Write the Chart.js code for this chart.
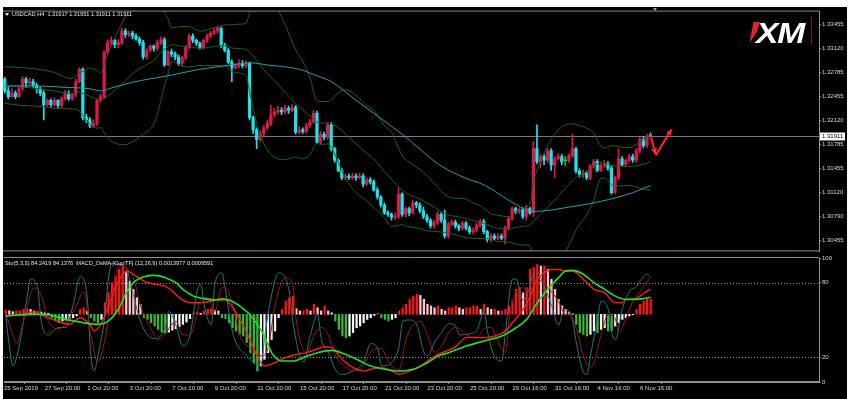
<!DOCTYPE html>
<html>
<head>
<meta charset="utf-8">
<title>USDCAD,H4</title>
<script src="https://cdn.jsdelivr.net/npm/chart.js@4.4.1/dist/chart.umd.min.js"></script>
<style>
  html, body { margin:0; padding:0; background:#fff; }
  body { width:855px; height:399px; position:relative; overflow:hidden; font-family:'Liberation Sans', Arial, sans-serif; }
  #term { position:absolute; left:3px; top:7px; width:844px; height:392px; background:#000; }
  canvas { position:absolute; left:3px; }
  #main { top:7px; }
  #sub { top:250px; }
  .lbl { position:absolute; color:#e6e6e6; font-size:5.6px; white-space:pre; line-height:7px; }
  #title { left:12px; top:11px; }
  #tri { position:absolute; left:5px; top:13px; width:0; height:0; border-left:2px solid transparent; border-right:2px solid transparent; border-top:3px solid #e6e6e6; }
  #subTitle { left:5px; top:260px; }
  #shift { position:absolute; left:653px; top:8px; width:0; height:0; border-left:2.5px solid transparent; border-right:2.5px solid transparent; border-top:3px solid #a0a0a0; }
  #xmRed { position:absolute; left:749px; top:22px; width:11px; height:21px; background:#e3262b; clip-path:polygon(40% 0,100% 0,70% 48%,5% 100%); }
  #xm { position:absolute; left:756px; top:22px; height:22px; line-height:22px; font-size:30px; font-weight:bold; font-style:italic; color:#fff; transform:scaleX(1.12); transform-origin:left top; letter-spacing:-1px; }
  #xmBar { position:absolute; left:811px; top:17px; width:1px; height:28px; background:#7d1a1a; }
</style>
</head>
<body>
<div id="term"></div>
<canvas id="main" width="844" height="249"></canvas>
<canvas id="sub" width="844" height="149"></canvas>
<div id="tri"></div>
<div class="lbl" id="title">USDCAD,H4  1.31917 1.31951 1.31911 1.31911</div>
<div class="lbl" id="subTitle">Sto(5,3,3) 84.2419 84.1376  MACD_OsMA [CurrTF] (12,26,9) 0.0013977 0.0009591</div>
<div id="shift"></div>
<div id="xmRed"></div>
<div id="xm">XM</div>
<div id="xmBar"></div>
<script>
// H4 candles, bar 0 = 25 Sep 2019
var barOpen = [1.3269,1.3253,1.3245,1.3250,1.3245,1.3256,1.3269,1.3264,1.3266,1.3261,
 1.3256,1.3250,1.3234,1.3240,1.3234,1.3240,1.3233,1.3242,1.3250,1.3242,
 1.3248,1.3266,1.3283,1.3216,1.3213,1.3205,1.3208,1.3240,1.3245,1.3307,
 1.3320,1.3323,1.3317,1.3320,1.3336,1.3331,1.3333,1.3329,1.3325,1.3320,
 1.3300,1.3309,1.3315,1.3312,1.3320,1.3324,1.3289,1.3307,1.3304,1.3300,
 1.3291,1.3299,1.3313,1.3329,1.3323,1.3319,1.3313,1.3323,1.3329,1.3333,
 1.3336,1.3340,1.3316,1.3309,1.3293,1.3285,1.3288,1.3291,1.3288,1.3291,
 1.3216,1.3199,1.3186,1.3194,1.3202,1.3208,1.3220,1.3224,1.3226,1.3224,
 1.3229,1.3226,1.3230,1.3196,1.3199,1.3197,1.3205,1.3210,1.3222,1.3182,
 1.3193,1.3189,1.3206,1.3173,1.3157,1.3143,1.3133,1.3135,1.3133,1.3135,
 1.3133,1.3135,1.3124,1.3130,1.3127,1.3116,1.3106,1.3095,1.3084,1.3082,
 1.3078,1.3079,1.3110,1.3082,1.3090,1.3084,1.3098,1.3095,1.3087,1.3079,
 1.3074,1.3066,1.3071,1.3082,1.3074,1.3052,1.3068,1.3071,1.3066,1.3063,
 1.3070,1.3063,1.3058,1.3060,1.3067,1.3072,1.3058,1.3047,1.3052,1.3049,
 1.3052,1.3049,1.3063,1.3076,1.3090,1.3086,1.3088,1.3079,1.3090,1.3084,
 1.3173,1.3155,1.3162,1.3157,1.3170,1.3150,1.3159,1.3162,1.3156,1.3156,
 1.3163,1.3173,1.3142,1.3137,1.3139,1.3133,1.3149,1.3155,1.3143,1.3150,
 1.3152,1.3146,1.3112,1.3133,1.3159,1.3151,1.3157,1.3162,1.3157,1.3170,
 1.3186,1.3177,1.31917];
var barHigh = [1.3272,1.3258,1.3256,1.3253,1.3258,1.3273,1.3272,1.3271,1.3269,1.3264,
 1.3258,1.3253,1.3242,1.3242,1.3244,1.3241,1.3245,1.3254,1.3253,1.3250,
 1.3269,1.3285,1.3285,1.3221,1.3216,1.3213,1.3242,1.3249,1.3309,1.3324,
 1.3328,1.3325,1.3324,1.3340,1.3339,1.3336,1.3336,1.3332,1.3328,1.3323,
 1.3312,1.3317,1.3317,1.3323,1.3328,1.3327,1.3309,1.3311,1.3307,1.3303,
 1.3301,1.3316,1.3332,1.3332,1.3325,1.3321,1.3325,1.3332,1.3336,1.3339,
 1.3343,1.3341,1.3319,1.3312,1.3296,1.3291,1.3296,1.3295,1.3295,1.3293,
 1.3218,1.3202,1.3197,1.3205,1.3212,1.3233,1.3229,1.3232,1.3230,1.3233,
 1.3232,1.3234,1.3233,1.3204,1.3202,1.3208,1.3214,1.3226,1.3225,1.3197,
 1.3196,1.3209,1.3209,1.3175,1.3159,1.3146,1.3138,1.3138,1.3139,1.3138,
 1.3139,1.3138,1.3133,1.3133,1.3130,1.3119,1.3108,1.3098,1.3087,1.3084,
 1.3084,1.3119,1.3112,1.3092,1.3092,1.3102,1.3100,1.3098,1.3092,1.3082,
 1.3076,1.3074,1.3086,1.3084,1.3088,1.3071,1.3074,1.3074,1.3068,1.3072,
 1.3072,1.3066,1.3063,1.3070,1.3075,1.3075,1.3060,1.3055,1.3055,1.3055,
 1.3055,1.3066,1.3079,1.3092,1.3092,1.3091,1.3091,1.3095,1.3092,1.3183,
 1.3206,1.3166,1.3165,1.3173,1.3173,1.3162,1.3166,1.3165,1.3162,1.3166,
 1.3193,1.3175,1.3145,1.3143,1.3142,1.3151,1.3158,1.3158,1.3152,1.3157,
 1.3155,1.3149,1.3135,1.3173,1.3162,1.3159,1.3165,1.3165,1.3173,1.3189,
 1.3190,1.3193,1.31951];
var barLow = [1.3250,1.3242,1.3244,1.3242,1.3244,1.3253,1.3258,1.3261,1.3258,1.3250,
 1.3246,1.3213,1.3232,1.3230,1.3232,1.3229,1.3230,1.3240,1.3240,1.3240,
 1.3245,1.3264,1.3213,1.3209,1.3202,1.3202,1.3205,1.3237,1.3242,1.3304,
 1.3316,1.3313,1.3313,1.3317,1.3327,1.3328,1.3325,1.3323,1.3316,1.3297,
 1.3297,1.3307,1.3308,1.3309,1.3317,1.3287,1.3288,1.3300,1.3296,1.3288,
 1.3288,1.3296,1.3311,1.3320,1.3316,1.3311,1.3311,1.3320,1.3327,1.3331,
 1.3333,1.3313,1.3307,1.3291,1.3266,1.3283,1.3285,1.3285,1.3285,1.3213,
 1.3194,1.3173,1.3183,1.3191,1.3199,1.3205,1.3217,1.3221,1.3220,1.3221,
 1.3222,1.3224,1.3193,1.3193,1.3194,1.3194,1.3202,1.3208,1.3180,1.3180,
 1.3185,1.3186,1.3170,1.3154,1.3141,1.3130,1.3130,1.3130,1.3130,1.3129,
 1.3131,1.3120,1.3122,1.3124,1.3114,1.3103,1.3092,1.3082,1.3079,1.3074,
 1.3075,1.3076,1.3079,1.3078,1.3080,1.3082,1.3091,1.3084,1.3076,1.3071,
 1.3063,1.3063,1.3068,1.3071,1.3049,1.3049,1.3066,1.3063,1.3059,1.3060,
 1.3060,1.3055,1.3055,1.3058,1.3064,1.3055,1.3044,1.3044,1.3047,1.3047,
 1.3047,1.3041,1.3060,1.3074,1.3083,1.3083,1.3076,1.3074,1.3082,1.3079,
 1.3152,1.3146,1.3151,1.3154,1.3143,1.3133,1.3157,1.3151,1.3149,1.3154,
 1.3161,1.3139,1.3134,1.3133,1.3130,1.3130,1.3146,1.3141,1.3141,1.3147,
 1.3143,1.3110,1.3111,1.3130,1.3149,1.3149,1.3154,1.3154,1.3154,1.3167,
 1.3174,1.3174,1.31911];
var barClose = [1.3253,1.3245,1.3250,1.3245,1.3256,1.3269,1.3264,1.3266,1.3261,1.3256,
 1.3250,1.3234,1.3240,1.3234,1.3240,1.3233,1.3242,1.3250,1.3242,1.3248,
 1.3266,1.3283,1.3216,1.3213,1.3205,1.3208,1.3240,1.3245,1.3307,1.3320,
 1.3323,1.3317,1.3320,1.3336,1.3331,1.3333,1.3329,1.3325,1.3320,1.3300,
 1.3309,1.3315,1.3312,1.3320,1.3324,1.3289,1.3307,1.3304,1.3300,1.3291,
 1.3299,1.3313,1.3329,1.3323,1.3319,1.3313,1.3323,1.3329,1.3333,1.3336,
 1.3340,1.3316,1.3309,1.3293,1.3285,1.3288,1.3291,1.3288,1.3291,1.3216,
 1.3199,1.3186,1.3194,1.3202,1.3208,1.3220,1.3224,1.3226,1.3224,1.3229,
 1.3226,1.3230,1.3196,1.3199,1.3197,1.3205,1.3210,1.3222,1.3182,1.3193,
 1.3189,1.3206,1.3173,1.3157,1.3143,1.3133,1.3135,1.3133,1.3135,1.3133,
 1.3135,1.3124,1.3130,1.3127,1.3116,1.3106,1.3095,1.3084,1.3082,1.3078,
 1.3079,1.3110,1.3082,1.3090,1.3084,1.3098,1.3095,1.3087,1.3079,1.3074,
 1.3066,1.3071,1.3082,1.3074,1.3052,1.3068,1.3071,1.3066,1.3063,1.3070,
 1.3063,1.3058,1.3060,1.3067,1.3072,1.3058,1.3047,1.3052,1.3049,1.3052,
 1.3049,1.3063,1.3076,1.3090,1.3086,1.3088,1.3079,1.3090,1.3084,1.3173,
 1.3155,1.3162,1.3157,1.3170,1.3150,1.3159,1.3162,1.3155,1.3156,1.3163,
 1.3173,1.3142,1.3137,1.3139,1.3133,1.3149,1.3155,1.3143,1.3150,1.3152,
 1.3146,1.3112,1.3133,1.3159,1.3151,1.3157,1.3162,1.3157,1.3170,1.3186,
 1.3177,1.3190,1.31911];

// moving average (teal), [bar, price]
var maPts = [[0,1.3260],[8,1.3260],[17,1.3258],[24,1.3256],[27,1.3253],[30,1.3257],[36,1.3265],[46,1.3274],
 [55,1.3283],[64,1.3289],[69,1.3292],[74,1.3289],[83,1.3283],[88,1.3274],[92,1.3266],[99,1.3240],[112,1.3193],
 [123,1.3149],[130,1.3132],[135,1.3123],[144,1.3096],[149,1.3086],[159,1.3092],[168,1.3100],[177,1.3112],[182,1.3122]];

// Bollinger bands (dark green), read at these bars
var bbBars = [0,5,10,14,19,21,22,24,26,27,28,29,31,34,36,39,42,44,45,46,47,48,49,52,55,59,62,64,66,68,
 69,70,71,72,74,76,79,82,84,86,88,89,91,92,94,96,99,102,104,107,109,112,114,117,119,122,124,127,129,132,
 134,137,139,142,144,146,148,149,150,151,152,154,156,159,161,162,164,166,168,169,171,172,174,176,179,181,182];
var bbUpper = [1.32865,1.32852,1.32825,1.32785,1.32698,1.32777,1.32803,1.32848,1.32810,1.32783,1.32897,1.33037,
 1.33262,1.33556,1.33703,1.33803,1.33835,1.33740,1.33614,1.33530,1.33404,1.33408,1.33418,1.33422,1.33357,
 1.33406,1.33443,1.33448,1.33455,1.33464,1.33611,1.33736,1.33827,1.33849,1.33826,1.33737,1.33448,1.33098,
 1.32943,1.32722,1.32388,1.32384,1.32383,1.32407,1.32505,1.32547,1.32470,1.32325,1.32262,1.32049,1.31958,
 1.31636,1.31540,1.31442,1.31359,1.31198,1.31094,1.31043,1.31043,1.30977,1.30943,1.30831,1.30808,1.30788,
 1.30864,1.30907,1.30962,1.31268,1.31419,1.31561,1.31668,1.31859,1.31989,1.32072,1.32066,1.32048,1.32014,
 1.31944,1.31765,1.31739,1.31770,1.31768,1.31750,1.31746,1.31819,1.31892,1.31943];
var bbMiddle = [1.32597,1.32584,1.32557,1.32530,1.32489,1.32515,1.32497,1.32456,1.32413,1.32402,1.32425,1.32457,
 1.32535,1.32671,1.32765,1.32868,1.32953,1.33067,1.33108,1.33141,1.33171,1.33167,1.33152,1.33143,1.33120,
 1.33144,1.33158,1.33126,1.33117,1.33104,1.33067,1.33017,1.32953,1.32886,1.32770,1.32673,1.32513,1.32357,
 1.32265,1.32184,1.32097,1.32085,1.32090,1.32079,1.32024,1.31936,1.31797,1.31666,1.31589,1.31413,1.31305,
 1.31157,1.31094,1.31033,1.30976,1.30890,1.30831,1.30791,1.30777,1.30732,1.30715,1.30653,1.30628,1.30613,
 1.30638,1.30652,1.30675,1.30726,1.30773,1.30825,1.30873,1.30964,1.31072,1.31233,1.31334,1.31364,1.31412,
 1.31481,1.31540,1.31530,1.31501,1.31489,1.31484,1.31483,1.31502,1.31528,1.31555];
var bbLower = [1.32356,1.32329,1.32316,1.32289,1.32281,1.32253,1.32191,1.32064,1.32015,1.32021,1.31953,1.31877,
 1.31808,1.31786,1.31828,1.31930,1.32072,1.32393,1.32601,1.32752,1.32937,1.32927,1.32887,1.32864,1.32884,
 1.32881,1.32874,1.32803,1.32779,1.32744,1.32522,1.32300,1.32080,1.31923,1.31714,1.31609,1.31579,1.31615,
 1.31588,1.31646,1.31805,1.31786,1.31797,1.31752,1.31544,1.31325,1.31124,1.31006,1.30917,1.30777,1.30653,
 1.30677,1.30646,1.30625,1.30592,1.30582,1.30568,1.30539,1.30512,1.30488,1.30487,1.30476,1.30446,1.30438,
 1.30412,1.30397,1.30387,1.30185,1.30126,1.30089,1.30078,1.30068,1.30156,1.30394,1.30602,1.30681,1.30811,
 1.31017,1.31316,1.31321,1.31232,1.31210,1.31218,1.31220,1.31185,1.31163,1.31166];

var lastPrice = 1.31911;
var priceTicks = [1.30455,1.30790,1.31120,1.31455,1.31785,1.32120,1.32455,1.32785,1.33120,1.33455];
var dateTickBars = [-0.5,11,23,35,47,59,71,83,95,107,119,131,143,155,167,179];
var dateTickLabels = ['25 Sep 2019','27 Sep 20:00','1 Oct 20:00','3 Oct 20:00','7 Oct 20:00','9 Oct 20:00',
 '11 Oct 20:00','15 Oct 20:00','17 Oct 20:00','21 Oct 20:00','23 Oct 20:00','25 Oct 20:00',
 '29 Oct 16:00','31 Oct 16:00','4 Nov 16:00','6 Nov 16:00'];

// hand drawn arrow (bar, price)
var arrowBars = [182, 183.5, 188.1];
var arrowPrices = [1.3192, 1.3164, 1.3201];

// Stochastic(5,3,3)
var stochMain = [[0,54],[1,29],[2,13],[4,32],[6,68],[7,83],[9,76],[10,49],[12,38],[13,40],[15,44],[17,44],[19,62],
 [21,85],[23,68],[24,21],[25,9],[26,21],[28,54],[29,84],[30,96],[32,95],[34,92],[36,70],[38,49],[40,38],[42,35],
 [45,44],[46,57],[48,46],[50,29],[52,38],[54,73],[55,79],[56,62],[58,46],[59,79],[61,88],[62,74],[64,40],[68,21],
 [72,13],[73,35],[75,70],[77,88],[80,73],[81,49],[84,16],[86,38],[88,55],[89,35],[91,24],[93,10],[95,6],[98,9],
 [101,16],[103,31],[105,27],[106,13],[109,16],[111,29],[112,49],[114,50],[116,46],[118,24],[119,21],[121,32],
 [123,40],[125,47],[127,45],[128,38],[131,39],[133,42],[135,57],[136,40],[138,20],[140,17],[141,40],[143,83],
 [144,83],[146,66],[147,69],[149,87],[150,88],[152,77],[154,62],[156,46],[157,54],[158,58],[160,49],[161,32],
 [163,8],[164,6],[165,21],[167,51],[168,65],[170,59],[171,40],[172,34],[174,59],[176,73],[178,77],[179,81],
 [181,87],[182,84.24]];
var stochSignal = [[0,55],[2,38],[3,31],[5,49],[8,76],[10,70],[12,49],[15,43],[17,47],[20,62],[22,73],[24,38],
 [26,16],[28,35],[30,70],[32,94],[34,92],[36,84],[38,62],[41,43],[43,34],[45,39],[48,49],[50,38],[52,38],[55,65],
 [57,68],[59,57],[61,76],[62,76],[64,62],[66,38],[69,27],[72,21],[74,27],[76,62],[79,84],[81,79],[82,49],[85,24],
 [87,38],[89,44],[91,38],[93,21],[96,12],[98,9],[101,13],[103,24],[106,27],[108,16],[111,10],[113,35],[115,46],
 [117,49],[119,38],[121,24],[123,29],[125,40],[127,44],[130,38],[133,36],[135,43],[137,44],[139,32],[141,24],
 [142,49],[144,73],[146,76],[148,73],[150,83],[152,79],[154,73],[156,65],[158,54],[159,55],[161,43],[163,21],
 [165,12],[166,16],[168,38],[170,54],[172,51],[173,40],[175,51],[177,65],[179,73],[181,81],[182,84.14]];
var stochLevels = [20, 80];
var stochTicks = [0, 20, 80, 100];

// MACD_OsMA, in points (0.00001)
var macdMain = [[0,-9],[4,0],[8,13],[12,-19],[16,-47],[18,-56],[21,-19],[24,-65],[25,-93],[27,-47],[29,47],[31,158],
 [33,224],[34,242],[36,224],[39,186],[42,168],[45,158],[47,130],[49,93],[52,65],[55,65],[58,75],[61,90],[63,65],
 [65,9],[68,-102],[71,-233],[73,-289],[76,-270],[79,-242],[82,-224],[85,-214],[88,-192],[90,-181],[92,-186],
 [95,-252],[98,-298],[101,-317],[103,-307],[106,-298],[109,-317],[111,-335],[114,-317],[117,-289],[119,-261],
 [122,-224],[125,-200],[127,-180],[130,-130],[135,-130],[138,-121],[141,-93],[143,-47],[146,28],[148,102],
 [150,196],[152,233],[154,251],[156,251],[158,242],[160,242],[162,214],[164,177],[166,140],[169,121],[172,65],
 [174,65],[175,84],[177,84],[179,102],[181,130],[182,140]];
var macdSignal = [[0,-9],[8,0],[13,-6],[17,-28],[22,-47],[26,-56],[29,-37],[32,37],[34,121],[36,177],[39,210],
 [42,218],[45,205],[48,177],[50,140],[53,102],[56,88],[59,80],[62,84],[66,47],[70,-28],[73,-121],[75,-214],
 [78,-261],[81,-261],[85,-233],[88,-214],[92,-201],[96,-224],[100,-261],[103,-289],[107,-307],[111,-317],
 [115,-307],[119,-270],[122,-233],[125,-214],[130,-177],[135,-149],[140,-121],[144,-75],[147,-28],[150,65],
 [153,140],[156,205],[158,242],[160,246],[163,224],[166,177],[169,140],[172,102],[175,84],[177,84],[180,88],[182,96]];
var osma = [25,20,15,19,19,28,32,28,19,19,
 13,9,6,-19,-37,-47,-37,-32,-24,-19,
 -9,28,37,19,-19,-37,-47,-28,65,121,
 177,214,251,279,233,186,140,93,56,-19,
 -28,-47,-65,-84,-99,-106,-99,-88,-80,-69,
 -56,-43,-24,9,13,6,19,28,32,24,
 19,-19,-24,-47,-75,-93,-112,-121,-158,-214,
 -270,-317,-289,-251,-214,-140,-93,-19,28,75,
 93,102,32,19,19,28,19,56,37,19,
 47,19,9,-37,-84,-121,-130,-121,-102,-75,
 -65,-47,-28,-19,-6,6,-19,-28,-37,-28,
 -19,19,37,56,84,102,112,106,84,56,
 47,37,47,28,19,37,37,47,37,28,
 37,37,47,47,28,56,37,28,28,19,
 19,28,47,75,140,149,121,149,251,261,
 279,270,270,251,196,140,84,47,28,13,
 3,-56,-102,-112,-121,-112,-93,-102,-84,-75,
 -93,-93,-65,-47,-28,-19,-9,-2,28,56,
 75,84,84];

Chart.defaults.font.family = "'Liberation Sans', Arial, sans-serif";
Chart.defaults.font.size = 6;
Chart.defaults.color = '#d8d8d8';

var upColor = '#e0174b', downColor = '#1fe3ea', dojiColor = '#2fbf2f';
var candleColors = barClose.map(function(c, i) {
    if (c > barOpen[i]) return upColor;
    if (c < barOpen[i]) return downColor;
    return dojiColor;
});
var osmaColors = osma.map(function(v, i) {
    var p = i ? osma[i - 1] : 0;
    if (v >= 0) return v >= p ? '#ff1414' : '#ffc4cc';
    return v <= p ? '#37b837' : '#f4f4f4';
});

function toPts(arr) {
    return arr.map(function(p) { return {x: p[0], y: p[1]}; });
}
function bandLine(values) {
    return {type: 'line', data: bbBars.map(function(b, i) { return {x: b, y: values[i]}; }),
            borderColor: '#1b631b', borderWidth: 1, pointRadius: 0, cubicInterpolationMode: 'monotone', order: 2};
}

var framePlugin = {
    id: 'frame',
    afterDraw: function(chart) {
        var ctx = chart.ctx, a = chart.chartArea;
        ctx.save();
        ctx.strokeStyle = '#8c8c8c';
        ctx.lineWidth = 1;
        ctx.beginPath();
        ctx.moveTo(a.left, a.top - 0.5); ctx.lineTo(a.right, a.top - 0.5);
        ctx.moveTo(a.left, a.bottom - 0.5); ctx.lineTo(a.right, a.bottom - 0.5);
        ctx.stroke();
        ctx.restore();
    }
};

var pricePlugin = {
    id: 'lastPrice',
    beforeDatasetsDraw: function(chart) {
        var ctx = chart.ctx, a = chart.chartArea;
        var py = Math.round(chart.scales.y.getPixelForValue(lastPrice)) + 0.5;
        ctx.save();
        ctx.strokeStyle = '#7a7a7a';
        ctx.lineWidth = 1;
        ctx.beginPath(); ctx.moveTo(a.left, py); ctx.lineTo(a.right, py); ctx.stroke();
        ctx.restore();
    },
    afterDraw: function(chart) {
        var ctx = chart.ctx, a = chart.chartArea;
        var py = Math.round(chart.scales.y.getPixelForValue(lastPrice));
        ctx.save();
        ctx.fillStyle = '#fff';
        ctx.fillRect(a.right + 1, py - 3.5, 25, 8);
        ctx.fillStyle = '#000';
        ctx.font = "6px 'Liberation Sans', Arial";
        ctx.textBaseline = 'middle';
        ctx.fillText(lastPrice.toFixed(5), a.right + 3, py + 0.5);
        ctx.restore();
    }
};

var arrowPlugin = {
    id: 'arrows',
    afterDatasetsDraw: function(chart) {
        var ctx = chart.ctx, xs = chart.scales.x, ys = chart.scales.y;
        var pts = arrowBars.map(function(b, i) { return [xs.getPixelForValue(b), ys.getPixelForValue(arrowPrices[i])]; });
        ctx.save();
        ctx.strokeStyle = ctx.fillStyle = '#ff2a2a';
        ctx.lineWidth = 2;
        for (var k = 1; k < pts.length; k++) {
            var p0 = pts[k - 1], p1 = pts[k];
            var ang = Math.atan2(p1[1] - p0[1], p1[0] - p0[0]);
            var bx = p1[0] - 7 * Math.cos(ang), by = p1[1] - 7 * Math.sin(ang);
            ctx.beginPath(); ctx.moveTo(p0[0], p0[1]); ctx.lineTo(bx, by); ctx.stroke();
            ctx.beginPath();
            ctx.moveTo(p1[0], p1[1]);
            ctx.lineTo(bx + 3 * Math.sin(ang), by - 3 * Math.cos(ang));
            ctx.lineTo(bx - 3 * Math.sin(ang), by + 3 * Math.cos(ang));
            ctx.closePath(); ctx.fill();
        }
        ctx.restore();
    }
};

var levelPlugin = {
    id: 'levels',
    beforeDatasetsDraw: function(chart) {
        var ctx = chart.ctx, a = chart.chartArea, ys = chart.scales.y;
        ctx.save();
        ctx.strokeStyle = '#9a9a9a';
        ctx.lineWidth = 1;
        ctx.setLineDash([1, 2]);
        stochLevels.forEach(function(v) {
            var py = Math.round(ys.getPixelForValue(v)) + 0.5;
            ctx.beginPath(); ctx.moveTo(a.left, py); ctx.lineTo(a.right, py); ctx.stroke();
        });
        ctx.restore();
    }
};

var axisGrid = {drawOnChartArea: false, tickLength: 2, color: '#909090'};

new Chart(document.getElementById('main'), {
    type: 'bar',
    data: {
        datasets: [
            {type: 'line', data: toPts(maPts), borderColor: '#24a2aa', borderWidth: 1, pointRadius: 0,
             cubicInterpolationMode: 'monotone', order: 1},
            bandLine(bbUpper), bandLine(bbMiddle), bandLine(bbLower),
            {data: barOpen.map(function(o, i) { return {x: i, y: [o, barClose[i]]}; }),
             backgroundColor: candleColors, barThickness: 2.6, minBarLength: 1, grouped: false, order: 3},
            {data: barLow.map(function(l, i) { return {x: i, y: [l, barHigh[i]]}; }),
             backgroundColor: candleColors, barThickness: 1, grouped: false, order: 4}
        ]
    },
    options: {
        responsive: false, animation: false, events: [],
        layout: {padding: {top: 1}},
        plugins: {legend: {display: false}, tooltip: {enabled: false}},
        scales: {
            x: {type: 'linear', min: -0.5, max: 229.5, offset: false, display: false},
            y: {position: 'right', min: 1.30307, max: 1.33629,
                afterBuildTicks: function(s) { s.ticks = priceTicks.map(function(v) { return {value: v}; }); },
                afterFit: function(s) { s.width = 28; },
                ticks: {padding: 1, callback: function(v) { return v.toFixed(5); }},
                grid: axisGrid, border: {color: '#909090'}}
        }
    },
    plugins: [pricePlugin, arrowPlugin, framePlugin]
});

new Chart(document.getElementById('sub'), {
    type: 'bar',
    data: {
        datasets: [
            {type: 'line', data: toPts(macdSignal), yAxisID: 'yM', borderColor: '#22e022', borderWidth: 1.6,
             pointRadius: 0, cubicInterpolationMode: 'monotone', order: 1},
            {type: 'line', data: toPts(macdMain), yAxisID: 'yM', borderColor: '#ff1a1a', borderWidth: 1.4,
             pointRadius: 0, cubicInterpolationMode: 'monotone', order: 2},
            {type: 'line', data: toPts(stochSignal), yAxisID: 'y', borderColor: '#a01414', borderWidth: 1,
             pointRadius: 0, cubicInterpolationMode: 'monotone', order: 3},
            {type: 'line', data: toPts(stochMain), yAxisID: 'y', borderColor: '#1e7b7d', borderWidth: 1,
             pointRadius: 0, cubicInterpolationMode: 'monotone', order: 4},
            {data: osma.map(function(v, i) { return {x: i, y: v}; }), yAxisID: 'yM',
             backgroundColor: osmaColors, barThickness: 1.6, grouped: false, order: 5}
        ]
    },
    options: {
        responsive: false, animation: false, events: [],
        layout: {padding: {top: 8}},
        plugins: {legend: {display: false}, tooltip: {enabled: false}},
        scales: {
            x: {type: 'linear', min: -0.5, max: 229.5, offset: false,
                afterBuildTicks: function(s) { s.ticks = dateTickBars.map(function(v) { return {value: v}; }); },
                afterFit: function(s) { s.height = 17; },
                ticks: {autoSkip: false, maxRotation: 0, align: 'start', padding: 1,
                        callback: function(v, i) { return dateTickLabels[i]; }},
                grid: axisGrid, border: {color: '#909090'}},
            y: {position: 'right', min: 0, max: 100,
                afterBuildTicks: function(s) { s.ticks = stochTicks.map(function(v) { return {value: v}; }); },
                afterFit: function(s) { s.width = 28; },
                ticks: {padding: 1},
                grid: axisGrid, border: {color: '#909090'}},
            yM: {display: false, min: -378, max: 315}
        }
    },
    plugins: [levelPlugin, framePlugin]
});
</script>
</body>
</html>
